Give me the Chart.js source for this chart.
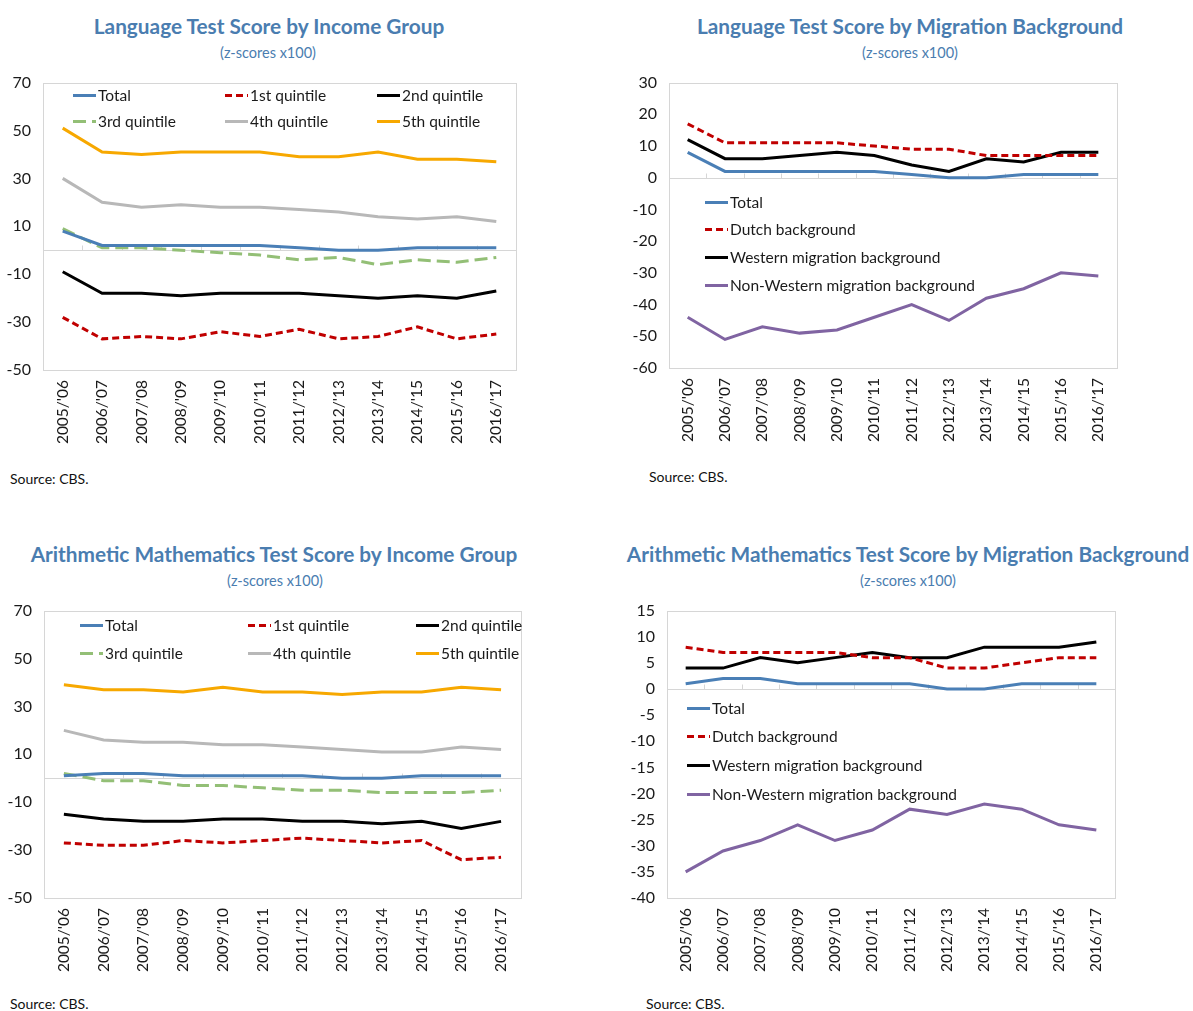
<!DOCTYPE html>
<html>
<head>
<meta charset="utf-8">
<script src="https://cdn.jsdelivr.net/npm/chart.js@4/dist/chart.umd.min.js"></script>
<style>
body{margin:0;width:1193px;height:1011px;background:#fff;position:relative;overflow:hidden;font-family:Lato,"Open Sans",sans-serif;}
canvas{position:absolute;}
.title{position:absolute;white-space:nowrap;transform:translate(-50%,-50%);color:#4a7db0;font-weight:bold;font-size:20.8px;}
.sub{position:absolute;white-space:nowrap;transform:translate(-50%,-50%);color:#4a7db0;font-size:14.5px;}
.src{position:absolute;white-space:nowrap;transform:translateY(-50%);color:#111;font-size:14px;}
</style>
</head>
<body>

<div class="title" style="left:269px;top:25px">Language Test Score by Income Group</div>
<div class="sub" style="left:268px;top:52px">(z-scores x100)</div>
<div class="src" style="left:10px;top:478px">Source: CBS.</div>
<canvas id="c1" width="530" height="409" style="left:0;top:61px"></canvas>

<div class="title" style="left:910px;top:25px">Language Test Score by Migration Background</div>
<div class="sub" style="left:910px;top:52px">(z-scores x100)</div>
<div class="src" style="left:649px;top:476px">Source: CBS.</div>
<canvas id="c2" width="583" height="409" style="left:610px;top:61px"></canvas>

<div class="title" style="left:274px;top:553px">Arithmetic Mathematics Test Score by Income Group</div>
<div class="sub" style="left:275px;top:580px">(z-scores x100)</div>
<div class="src" style="left:10px;top:1003px">Source: CBS.</div>
<canvas id="c3" width="530" height="409" style="left:0;top:589px"></canvas>

<div class="title" style="left:908px;top:553px">Arithmetic Mathematics Test Score by Migration Background</div>
<div class="sub" style="left:908px;top:580px">(z-scores x100)</div>
<div class="src" style="left:646px;top:1003px">Source: CBS.</div>
<canvas id="c4" width="583" height="409" style="left:610px;top:589px"></canvas>

<script>
const categories=["2005/'06","2006/'07","2007/'08","2008/'09","2009/'10","2010/'11","2011/'12","2012/'13","2013/'14","2014/'15","2015/'16","2016/'17"];

// language test, by income group
const langIncTotal=[8,2,2,2,2,2,1,0,0,1,1,1];
const langIncQ1=[-28,-37,-36,-37,-34,-36,-33,-37,-36,-32,-37,-35];
const langIncQ2=[-9,-18,-18,-19,-18,-18,-18,-19,-20,-19,-20,-17];
const langIncQ3=[9,1,1,0,-1,-2,-4,-3,-6,-4,-5,-3];
const langIncQ4=[30,20,18,19,18,18,17,16,14,13,14,12];
const langIncQ5=[51,41,40,41,41,41,39,39,41,38,38,37];

// language test, by migration background
const langMigTotal=[8,2,2,2,2,2,1,0,0,1,1,1];
const langMigDutch=[17,11,11,11,11,10,9,9,7,7,7,7];
const langMigWestern=[12,6,6,7,8,7,4,2,6,5,8,8];
const langMigNonWestern=[-44,-51,-47,-49,-48,-44,-40,-45,-38,-35,-30,-31];

// arithmetic test, by income group
const mathIncTotal=[1,2,2,1,1,1,1,0,0,1,1,1];
const mathIncQ1=[-27,-28,-28,-26,-27,-26,-25,-26,-27,-26,-34,-33];
const mathIncQ2=[-15,-17,-18,-18,-17,-17,-18,-18,-19,-18,-21,-18];
const mathIncQ3=[2,-1,-1,-3,-3,-4,-5,-5,-6,-6,-6,-5];
const mathIncQ4=[20,16,15,15,14,14,13,12,11,11,13,12];
const mathIncQ5=[39,37,37,36,38,36,36,35,36,36,38,37];

// arithmetic test, by migration background
const mathMigTotal=[1,2,2,1,1,1,1,0,0,1,1,1];
const mathMigDutch=[8,7,7,7,7,6,6,4,4,5,6,6];
const mathMigWestern=[4,4,6,5,6,7,6,6,8,8,8,9];
const mathMigNonWestern=[-35,-31,-29,-26,-29,-27,-23,-24,-22,-23,-26,-27];

const incomeLabels=["Total","1st quintile","2nd quintile","3rd quintile","4th quintile","5th quintile"];
const migLabels=["Total","Dutch background","Western migration background","Non-Western migration background"];

const langIncTicks=[-50,70,20];
const langMigTicks=[-60,30,10];
const mathIncTicks=[-50,70,20];
const mathMigTicks=[-40,15,5];

const FONT="Lato, 'Open Sans', sans-serif";

const incomeStyles=[
    {color:"#4a7fb6",dash:[]},
    {color:"#c00000",dash:[7,4]},
    {color:"#000000",dash:[]},
    {color:"#93bf76",dash:[13,6]},
    {color:"#b8b8b8",dash:[]},
    {color:"#f7a800",dash:[]}
];
const migStyles=[
    {color:"#4a7fb6",dash:[]},
    {color:"#c00000",dash:[7,4]},
    {color:"#000000",dash:[]},
    {color:"#8064a2",dash:[]}
];

// box round plot area, zero line ticks
const framePlugin={
    id:"frame",
    beforeDatasetsDraw(chart){
        const a=chart.chartArea, c=chart.ctx;
        const x=chart.scales.x, y=chart.scales.y;
        const zy=Math.round(y.getPixelForValue(0))+0.5;
        c.save();
        c.strokeStyle="#d6d6d6";
        c.lineWidth=1;
        c.strokeRect(Math.round(a.left)+0.5,Math.round(a.top)+0.5,Math.round(a.width),Math.round(a.height));
        c.beginPath();
        c.moveTo(a.left,zy);c.lineTo(a.right,zy);
        const step=x.width/categories.length;
        for(let i=1;i<categories.length;i++){
            const px=Math.round(a.left+i*step)+0.5;
            c.moveTo(px,zy);c.lineTo(px,zy-5);
        }
        c.stroke();
        c.restore();
    }
};

// legend drawn inside the plot
const insideLegend={
    id:"insideLegend",
    afterDatasetsDraw(chart,args,opts){
        const a=chart.chartArea, c=chart.ctx;
        c.save();
        c.font="15.5px "+FONT;
        c.fillStyle="#1a1a1a";
        c.textBaseline="middle";
        chart.data.datasets.forEach((ds,i)=>{
            const col=i%opts.cols, row=Math.floor(i/opts.cols);
            const x=a.left+opts.x0+col*opts.colGap;
            const yy=Math.round(a.top+opts.y0+row*opts.rowGap)+0.5;
            c.strokeStyle=ds.borderColor;
            c.lineWidth=3;
            c.setLineDash(ds.borderDash||[]);
            c.beginPath();c.moveTo(x,yy);c.lineTo(x+23,yy);c.stroke();
            c.fillText(ds.label,x+25,yy);
        });
        c.restore();
    }
};

function makeChart(id,series,labels,styles,ticks,box,legend){
    const cv=document.getElementById(id);
    const cLeft=parseInt(cv.style.left)||0;
    const cRight=cLeft+cv.width;
    const cBottom=(parseInt(cv.style.top)||0)+cv.height;
    new Chart(cv,{
        type:"line",
        data:{
            labels:categories,
            datasets:series.map((d,i)=>({
                label:labels[i],
                data:d,
                borderColor:styles[i].color,
                borderDash:styles[i].dash,
                borderWidth:3,
                pointRadius:0,
                tension:0,
                fill:false
            }))
        },
        options:{
            responsive:false,
            animation:false,
            devicePixelRatio:1,
            layout:{padding:{top:0,right:cRight-box.r,left:0,bottom:0}},
            plugins:{legend:{display:false},tooltip:{enabled:false},insideLegend:legend},
            scales:{
                x:{
                    offset:true,
                    grid:{display:false,drawTicks:false,tickLength:0},
                    border:{display:false},
                    ticks:{maxRotation:90,minRotation:90,padding:10,color:"#1a1a1a",font:{family:FONT,size:15.5}},
                    afterFit(s){s.height=cBottom-box.b;}
                },
                y:{
                    min:ticks[0],max:ticks[1],
                    grid:{display:false,drawTicks:false,tickLength:0},
                    border:{display:false},
                    ticks:{stepSize:ticks[2],padding:12,color:"#1a1a1a",font:{family:FONT,size:16}},
                    afterFit(s){s.width=box.l-cLeft;}
                }
            }
        },
        plugins:[framePlugin,insideLegend]
    });
}

makeChart("c1",[langIncTotal,langIncQ1,langIncQ2,langIncQ3,langIncQ4,langIncQ5],incomeLabels,incomeStyles,langIncTicks,
    {l:43,t:83,r:516,b:370},{cols:3,x0:30,colGap:152,y0:12,rowGap:26});
makeChart("c2",[langMigTotal,langMigDutch,langMigWestern,langMigNonWestern],migLabels,migStyles,langMigTicks,
    {l:669,t:83,r:1117,b:368},{cols:1,x0:36,colGap:0,y0:119,rowGap:27.7});
makeChart("c3",[mathIncTotal,mathIncQ1,mathIncQ2,mathIncQ3,mathIncQ4,mathIncQ5],incomeLabels,incomeStyles,mathIncTicks,
    {l:44,t:611,r:522,b:898},{cols:3,x0:36,colGap:168,y0:14,rowGap:28});
makeChart("c4",[mathMigTotal,mathMigDutch,mathMigWestern,mathMigNonWestern],migLabels,migStyles,mathMigTicks,
    {l:667,t:611,r:1115,b:898},{cols:1,x0:20,colGap:0,y0:97,rowGap:28.8});
</script>
</body>
</html>
